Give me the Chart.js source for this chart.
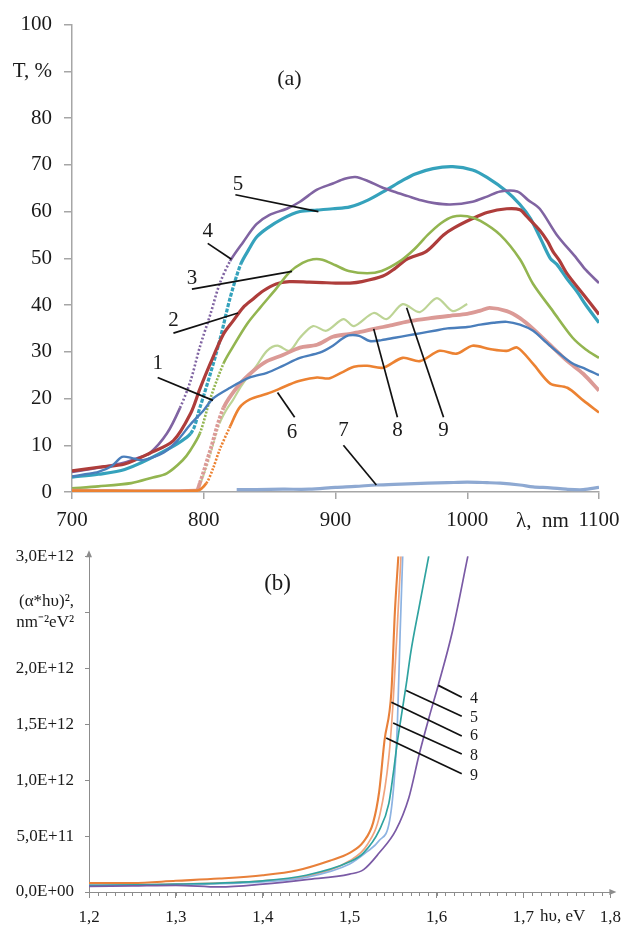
<!DOCTYPE html>
<html><head><meta charset="utf-8">
<script src="https://cdn.jsdelivr.net/npm/chart.js@4"></script>
<style>
html,body{margin:0;padding:0;background:#fff;}
#wrapA{position:absolute;left:0;top:0;width:630px;height:530px;}
#wrapB{position:absolute;left:0;top:535px;width:630px;height:390px;}
</style></head><body>
<div id="wrapA"><canvas id="chartA" width="630" height="530"></canvas></div>
<div id="wrapB"><canvas id="chartB" width="630" height="390"></canvas></div>
<script>
// ---------- Chart (a): transmittance T, % vs wavelength, nm ----------
const xTicksA = [700, 800, 900, 1000, 1100];
const yTicksA = [0, 10, 20, 30, 40, 50, 60, 70, 80, 90, 100];

const wl1 = [700,710,720,730,738,745,752,760,770,780,790,800,807,820,835,848,860,873,888,898,905,910,918,926,935,945,955,965,975,985,1000,1010,1020,1030,1040,1050,1060,1070,1080,1090,1100];
const t1  = [3.3,3.8,4.3,5.5,7.5,7.3,6.8,7.3,8.5,11,14.5,17.5,20,22.3,24.5,25.5,27,28.7,29.8,31.3,32.8,33.5,33.4,32.3,32.5,33,33.5,34,34.5,35,35.3,35.8,36.2,36.4,35.8,34.5,32,29.6,27.5,26.3,25];

const wl2 = [700,720,740,759,777,790,797,805,815,822,830,837,845,855,865,880,890,900,911,920,936,945,954,969,982,990,1004,1015,1030,1040,1045,1055,1061,1065,1070,1076,1088,1100];
const t2  = [4.5,5.3,6,8.3,11,16.8,22,27.5,33.8,36.5,39.5,41.2,43,44.5,45,44.9,44.8,44.7,44.7,45,46.2,47.8,49.8,51.5,55,56.5,58.5,59.8,60.6,60.4,59,56,53.6,51.5,49.5,46.6,42.3,38];

const wl3 = [700,720,745,760,772,784,790,797,805,815,822,833,843,855,865,875,883,890,900,910,924,935,949,960,970,980,989,1000,1010,1025,1040,1050,1065,1080,1090,1100];
const t3  = [0.8,1.2,1.9,3,4,6.8,9,12.5,20,27.5,31,36,39.5,43.5,47,49,49.8,49.7,48.5,47.3,46.8,47.3,49.4,52,55,57.5,58.9,59,58,55,49.8,44.5,38.7,33,30.5,28.7];

const wl4 = [700,720,740,750,759,772,782,790,797,805,812,820,830,840,850,863,873,886,898,907,915,925,935,944,955,965,975,987,1004,1015,1025,1038,1046,1055,1068,1083,1090,1100];
const t4  = [4.3,5.2,6.3,7.3,8.3,12.5,18,23.8,31,38,44.5,49.4,53.5,57.3,59.3,60.6,62.1,64.7,66,67,67.4,66.5,65.2,64.3,63.3,62.4,61.8,61.5,62.1,63.2,64.3,64.3,62.5,60.6,55,50,47.5,44.7];

const wl5 = [700,720,740,767,790,797,805,812,820,828,834,840,848,860,873,886,898,911,925,939,950,960,974,989,1004,1015,1030,1040,1048,1056,1063,1068,1076,1083,1090,1100];
const t5  = [3.2,3.8,4.8,8.3,12.5,18,25.3,32.3,41.5,48.7,51.8,54.5,56.4,58.5,60,60.3,60.6,61,62.5,64.7,66.5,68,69.2,69.6,68.9,67.3,64.3,61.5,58.5,54,50,48.7,45.5,43,40,36.2];

const wl6 = [700,795,802,807,812,820,827,835,848,857,865,873,886,895,905,914,924,936,951,964,979,992,1004,1017,1030,1038,1050,1063,1076,1088,1100];
const t6  = [0.3,0.3,1.9,5,9,14,18,19.8,21,22,23,23.8,24.5,24.3,25.6,26.8,27,26.6,28.7,28,30.2,29.6,31.3,30.6,30.2,30.9,27.4,23.2,22.3,19.6,17];

const wl7 = [825,840,860,880,900,915,931,950,970,985,1000,1015,1025,1040,1050,1063,1075,1088,1100];
const t7  = [0.5,0.5,0.6,0.6,1,1.2,1.5,1.7,1.9,2,2.1,2,1.9,1.5,1.1,0.9,0.6,0.5,1];

const wl8 = [700,794,797,805,815,827,838,848,860,873,886,898,910,920,929,943,957,972,987,1000,1010,1017,1030,1040,1050,1065,1076,1088,1100];
const t8  = [0.3,0.3,1.9,9,18,23,26,28,29.3,30.9,31.5,33.2,33.8,34.3,34.9,35.7,36.6,37.2,37.7,38.1,38.8,39.4,38.7,37.2,34.9,30.9,28,25.3,21.7];

const wl9 = [795,802,807,812,817,822,828,833,840,848,856,865,873,883,893,906,914,929,939,951,964,977,989,1000];
const t9  = [0,5.3,10,14.7,17.5,19.6,22.5,24.5,27,30.2,31.3,30.2,33,35.5,34.5,37,35.5,38.3,37,40.2,38.5,41.5,38.7,40.2];

// curve labels of chart (a): label text, text anchor, leader line start/end (data units)
const labelNamesA = ['1','2','3','4','5','6','7','8','9'];
const labelAtA    = [[765,27.4],[777,36.6],[791,45.7],[803,55.7],[826,65.7],[867,12.8],[906,13.2],[947,13.2],[982,13.2]];
const leaderFromA = [[765,24.5],[777,34],[791,43.4],[803,53.2],[824,63.6],[869,16],[906,10],[947,16],[982,16]];
const leaderToA   = [[807,19.6],[826,38.3],[867,47.2],[821,49.8],[887,60],[856,21.3],[931,1.5],[929,34.9],[954,39.4]];

// ---------- Chart (b): (α*hυ)² vs hυ, eV ----------
const xTicksB = [1.2, 1.3, 1.4, 1.5, 1.6, 1.7, 1.8];
const yTicksB = [0, 0.5e12, 1.0e12, 1.5e12, 2.0e12, 2.5e12, 3.0e12];

const hv4 = [1.2,1.25,1.3,1.35,1.4,1.45,1.5,1.516,1.534,1.553,1.568,1.58,1.591,1.602,1.618,1.636];
const a4  = [0.05e12,0.055e12,0.06e12,0.045e12,0.07e12,0.11e12,0.16e12,0.2e12,0.35e12,0.55e12,0.84e12,1.23e12,1.55e12,1.85e12,2.32e12,3.0e12];

const hv5 = [1.2,1.3,1.4,1.45,1.5,1.516,1.534,1.545,1.55,1.555,1.56,1.565,1.5705,1.58,1.591];
const a5  = [0.06e12,0.07e12,0.1e12,0.15e12,0.27e12,0.35e12,0.55e12,0.79e12,1.05e12,1.35e12,1.6e12,1.85e12,2.15e12,2.55e12,3.0e12];

const hv6 = [1.2,1.25,1.3,1.35,1.4,1.44,1.477,1.5,1.516,1.527,1.534,1.54,1.548,1.552,1.556];
const a6  = [0.08e12,0.08e12,0.1e12,0.12e12,0.15e12,0.195e12,0.28e12,0.35e12,0.45e12,0.62e12,0.9e12,1.35e12,1.79e12,2.5e12,3.0e12];

const hv8 = [1.2,1.3,1.4,1.45,1.5,1.52,1.535,1.545,1.55,1.555,1.559];
const a8  = [0.06e12,0.07e12,0.1e12,0.14e12,0.28e12,0.42e12,0.7e12,1.2e12,1.7e12,2.4e12,3.0e12];

const hv9 = [1.2,1.3,1.4,1.45,1.5,1.52,1.534,1.546,1.552,1.555,1.558,1.561];
const a9  = [0.06e12,0.065e12,0.09e12,0.13e12,0.25e12,0.36e12,0.46e12,0.64e12,1.08e12,1.53e12,2.3e12,3.0e12];

const labelNamesB = ['4','5','6','8','9'];
const labelAtB    = [[1.643,1.73e12],[1.643,1.553e12],[1.643,1.393e12],[1.643,1.216e12],[1.643,1.038e12]];
const leaderFromB = [[1.602,1.846e12],[1.565,1.80e12],[1.548,1.695e12],[1.55,1.51e12],[1.542,1.375e12]];
const leaderToB   = [[1.629,1.74e12],[1.629,1.57e12],[1.629,1.393e12],[1.629,1.233e12],[1.629,1.056e12]];

// ---------- helpers ----------
const FONT = "'Liberation Serif','Times New Roman',serif";
const TXT = '#1a1a1a';
const pts = (xs, ys) => xs.map((x, i) => ({x: x, y: ys[i]}));
const steep = (pattern, lim) => ({
  borderDash: ctx => {
    const a = ctx.p0.parsed, b = ctx.p1.parsed;
    return Math.abs((b.y - a.y) / (b.x - a.x)) > lim ? pattern : undefined;
  }
});
const lineDS = (data, color, width, dash, lim) => ({
  data: data, borderColor: color, backgroundColor: color, borderWidth: width,
  pointRadius: 0, tension: 0.3, fill: false,
  segment: dash ? steep(dash, lim) : undefined
});

function annotPlugin(id, names, at, from, to, fontPx, extra) {
  return {
    id: id,
    afterDatasetsDraw(chart) {
      const {ctx, scales: {x, y}} = chart;
      ctx.save();
      ctx.strokeStyle = '#111';
      ctx.lineWidth = 1.7;
      for (let i = 0; i < names.length; i++) {
        ctx.beginPath();
        ctx.moveTo(x.getPixelForValue(from[i][0]), y.getPixelForValue(from[i][1]));
        ctx.lineTo(x.getPixelForValue(to[i][0]), y.getPixelForValue(to[i][1]));
        ctx.stroke();
      }
      ctx.fillStyle = TXT;
      ctx.font = fontPx + 'px ' + FONT;
      ctx.textAlign = 'center';
      ctx.textBaseline = 'middle';
      for (let i = 0; i < names.length; i++) {
        ctx.fillText(names[i], x.getPixelForValue(at[i][0]), y.getPixelForValue(at[i][1]));
      }
      if (extra) extra(chart, ctx, x, y);
      ctx.restore();
    }
  };
}

// ---------- chart (a) ----------
const extraA = (chart, ctx, x, y) => {
  ctx.font = '22px ' + FONT;
  ctx.fillText('(a)', x.getPixelForValue(865), y.getPixelForValue(88.3));
  ctx.font = '21px ' + FONT;
  ctx.fillText('λ,\u2002nm', x.getPixelForValue(1057), chart.chartArea.bottom + 29);
};

new Chart(document.getElementById('chartA'), {
  type: 'line',
  data: {
    datasets: [
      lineDS(pts(wl7, t7), '#8EA9D2', 3.2),
      lineDS(pts(wl6, t6), '#EC8232', 2.6, [2, 1.5], 0.6),
      lineDS(pts(wl1, t1), '#4A7EBB', 2.4),
      lineDS(pts(wl8, t8), '#DB9A96', 3.8, [3, 1.5], 0.6),
      lineDS(pts(wl9, t9), '#BDD495', 2.2, [2, 2], 0.6),
      lineDS(pts(wl3, t3), '#93B550', 2.6, [2, 1.5], 0.6),
      lineDS(pts(wl2, t2), '#AE3D3B', 3.2),
      lineDS(pts(wl4, t4), '#8064A2', 2.6, [2, 2], 0.6),
      lineDS(pts(wl5, t5), '#35A2BC', 3.2, [4, 1.5], 0.6)
    ]
  },
  options: {
    responsive: false, animation: false,
    layout: {padding: {top: 22, right: 31, left: 0, bottom: 0}},
    plugins: {legend: {display: false}, tooltip: {enabled: false}},
    scales: {
      x: {
        type: 'linear', min: 700, max: 1100,
        afterBuildTicks: s => { s.ticks = xTicksA.map(v => ({value: v})); },
        afterFit: s => { s.height = 38; },
        ticks: {color: TXT, font: {family: FONT, size: 21}, padding: 9, maxRotation: 0,
          callback: v => String(v)},
        grid: {drawOnChartArea: false, drawTicks: true, tickLength: 7, color: '#A6A6A6', lineWidth: 1.5},
        border: {color: '#A6A6A6', width: 1.5}
      },
      y: {
        type: 'linear', min: 0, max: 100,
        afterBuildTicks: s => { s.ticks = yTicksA.map(v => ({value: v})); },
        afterFit: s => { s.width = 72; },
        ticks: {color: TXT, font: {family: FONT, size: 21}, padding: 12,
          callback: v => (v === 90 ? 'T, %' : String(v))},
        grid: {drawOnChartArea: false, drawTicks: true, tickLength: 8, color: '#A6A6A6', lineWidth: 1.5},
        border: {color: '#A6A6A6', width: 1.5}
      }
    }
  },
  plugins: [annotPlugin('annA', labelNamesA, labelAtA, leaderFromA, leaderToA, 21, extraA)]
});

// ---------- chart (b) ----------
const sciLabel = v => {
  if (v === 0) return '0,0E+00';
  const e = Math.floor(Math.log10(v) + 1e-9);
  const m = v / Math.pow(10, e);
  return m.toFixed(1).replace('.', ',') + 'E+' + (e < 10 ? '0' + e : e);
};
const extraB = (chart, ctx, x, y) => {
  const ca = chart.chartArea;
  ctx.font = '23px ' + FONT;
  ctx.fillText('(b)', x.getPixelForValue(1.417), y.getPixelForValue(2.75e12));
  ctx.font = '17px ' + FONT;
  ctx.textAlign = 'left';
  ctx.fillText('hυ, eV', x.getPixelForValue(1.719), ca.bottom + 25);
  ctx.textAlign = 'center';
  // minor ticks every 0.01 eV
  ctx.strokeStyle = '#8C8C8C';
  ctx.lineWidth = 1;
  for (let k = 0; k <= 60; k++) {
    const px = Math.round(x.getPixelForValue(1.2 + k * 0.01)) + 0.5;
    ctx.beginPath(); ctx.moveTo(px, ca.bottom); ctx.lineTo(px, ca.bottom + 4); ctx.stroke();
  }
  // arrow heads
  ctx.fillStyle = '#8C8C8C';
  ctx.beginPath();
  ctx.moveTo(ca.left, ca.top - 6); ctx.lineTo(ca.left - 3, ca.top + 1); ctx.lineTo(ca.left + 3, ca.top + 1);
  ctx.closePath(); ctx.fill();
  ctx.beginPath();
  ctx.moveTo(ca.right + 6, ca.bottom); ctx.lineTo(ca.right - 1, ca.bottom - 3); ctx.lineTo(ca.right - 1, ca.bottom + 3);
  ctx.closePath(); ctx.fill();
};

new Chart(document.getElementById('chartB'), {
  type: 'line',
  data: {
    datasets: [
      lineDS(pts(hv4, a4), '#7A5AA5', 1.7),
      lineDS(pts(hv5, a5), '#2FA3A0', 1.7),
      lineDS(pts(hv9, a9), '#8DB3E2', 1.7),
      lineDS(pts(hv8, a8), '#F0A47E', 1.7),
      lineDS(pts(hv6, a6), '#E8803A', 2.1)
    ]
  },
  options: {
    responsive: false, animation: false,
    layout: {padding: {top: 19, right: 13, left: 0, bottom: 0}},
    plugins: {legend: {display: false}, tooltip: {enabled: false}},
    elements: {line: {cubicInterpolationMode: 'monotone'}},
    scales: {
      x: {
        type: 'linear', min: 1.2, max: 1.8,
        afterBuildTicks: s => { s.ticks = xTicksB.map(v => ({value: v})); },
        afterFit: s => { s.height = 33; },
        ticks: {color: TXT, font: {family: FONT, size: 17}, padding: 9, maxRotation: 0,
          callback: v => v.toFixed(1).replace('.', ',')},
        grid: {drawOnChartArea: false, drawTicks: true, tickLength: 6, color: '#8C8C8C', lineWidth: 1},
        border: {color: '#8C8C8C', width: 1}
      },
      y: {
        type: 'linear', min: 0, max: 3e12,
        afterBuildTicks: s => { s.ticks = yTicksB.map(v => ({value: v})); },
        afterFit: s => { s.width = 89; },
        ticks: {color: TXT, font: {family: FONT, size: 17}, padding: 11,
          callback: v => (Math.abs(v - 2.5e12) < 1 ? ['(α*hυ)²,', 'nm⁻²eV²'] : sciLabel(v))},
        grid: {drawOnChartArea: false, drawTicks: true, tickLength: 4, color: '#8C8C8C', lineWidth: 1},
        border: {color: '#8C8C8C', width: 1}
      }
    }
  },
  plugins: [annotPlugin('annB', labelNamesB, labelAtB, leaderFromB, leaderToB, 16, extraB)]
});
</script>
</body></html>
